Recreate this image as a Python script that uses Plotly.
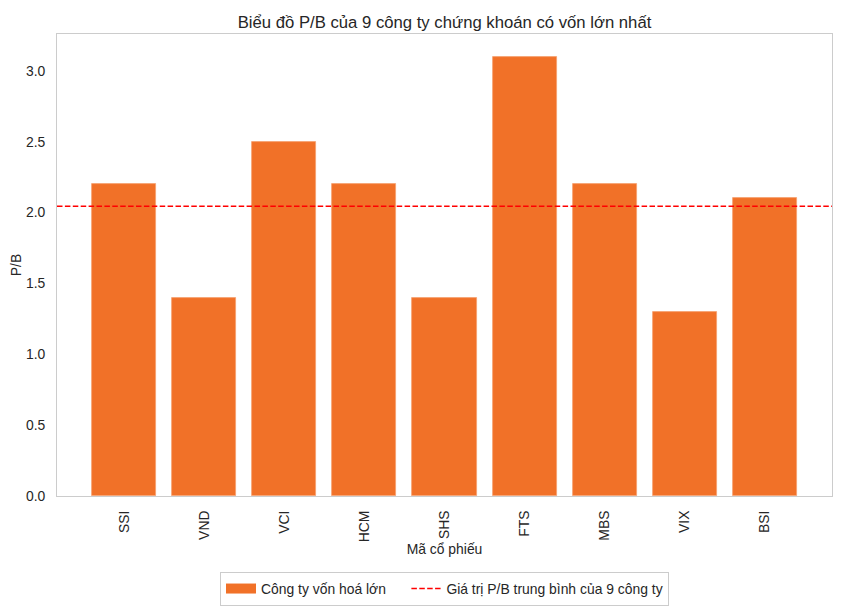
import plotly.graph_objects as go

categories = ["SSI", "VND", "VCI", "HCM", "SHS", "FTS", "MBS", "VIX", "BSI"]
pb_values = [2.2, 1.4, 2.5, 2.2, 1.4, 3.1, 2.2, 1.3, 2.1]
mean_pb = sum(pb_values) / len(pb_values)

BAR_COLOR = "#f17128"
x_idx = list(range(len(categories)))
x_lo, x_hi = -0.84, len(categories) - 1 + 0.84

fig = go.Figure()
fig.add_trace(go.Bar(
    x=x_idx, y=pb_values, width=0.8,
    name="Công ty vốn hoá lớn", showlegend=False,
    marker=dict(color=BAR_COLOR, line=dict(color="#f5a070", width=0.8)),
))
# legend proxy for the bars (wide patch like matplotlib)
fig.add_trace(go.Scatter(
    x=[None], y=[None], mode="lines",
    name="Công ty vốn hoá lớn" + "\u00a0" * 4,
    line=dict(color=BAR_COLOR, width=10),
))
fig.add_trace(go.Scatter(
    x=[x_lo, x_hi], y=[mean_pb, mean_pb], mode="lines",
    name="Giá trị P/B trung bình của 9 công ty",
    line=dict(color="#ff0000", width=1.6, dash="5.5px,2.4px"),
))

FS = 13.9
fig.update_layout(
    width=833, height=600,
    margin=dict(l=49, r=9, t=26, b=112, autoexpand=False),
    paper_bgcolor="white", plot_bgcolor="white",
    font=dict(family="Liberation Sans, Arial, sans-serif", size=FS, color="#262626"),
    title=dict(text="Biểu đồ P/B của 9 công ty chứng khoán có vốn lớn nhất",
               xref="paper", x=0.5, xanchor="center", y=1, yref="paper",
               yanchor="bottom", pad=dict(b=6),
               font=dict(size=16.7, color="#262626")),
    showlegend=True,
    legend=dict(orientation="h", x=0.5, xanchor="center", y=-0.1645, yanchor="top",
                bordercolor="#cccccc", borderwidth=1, font=dict(size=FS),
                itemwidth=30),
    bargap=0,
)
fig.update_xaxes(
    range=[x_lo, x_hi], tickmode="array", tickvals=x_idx, ticktext=categories,
    tickangle=-90, showgrid=False, zeroline=False, showline=True, mirror=True,
    linecolor="#cccccc", linewidth=1, ticks="outside", ticklen=8, tickcolor="rgba(0,0,0,0)",
    automargin=False,
    title=dict(text="Mã cổ phiếu", standoff=3, font=dict(size=FS)),
)
fig.update_yaxes(
    range=[0, 3.26], tickvals=[0, 0.5, 1.0, 1.5, 2.0, 2.5, 3.0], tickformat=".1f",
    showgrid=False, zeroline=False, showline=True, mirror=True,
    linecolor="#cccccc", linewidth=1, ticks="outside", ticklen=8, tickcolor="rgba(0,0,0,0)",
    automargin=False,
    title=dict(text="P/B", standoff=5, font=dict(size=FS)),
)

fig.write_html("out.html")
